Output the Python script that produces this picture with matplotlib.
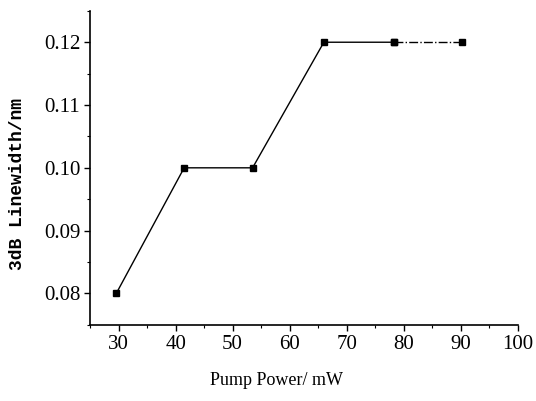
import numpy as np
import matplotlib.pyplot as plt
from matplotlib.ticker import MultipleLocator, FuncFormatter

pump_power = [29.6, 41.5, 53.5, 66.0, 78.3, 90.2]
linewidth = [0.080, 0.100, 0.100, 0.120, 0.120, 0.120]

fig = plt.figure(figsize=(5.36, 4.01), dpi=100)
ax = fig.add_axes([0.168, 0.19, 0.798, 0.783])

# solid up to 78 mW, dash-dot for the last segment
ax.plot(pump_power[:5], linewidth[:5], color='black', lw=1.0,
        marker='s', markersize=5)
ax.plot(pump_power[4:], linewidth[4:], color='black', lw=1.0, ls='-.',
        marker='s', markersize=5)

ax.set_xlim(25, 100)
ax.set_ylim(0.075, 0.125)
ax.xaxis.set_major_locator(MultipleLocator(10))
ax.xaxis.set_minor_locator(MultipleLocator(5))
ax.yaxis.set_major_locator(MultipleLocator(0.01))
ax.yaxis.set_minor_locator(MultipleLocator(0.005))
ax.yaxis.set_major_formatter(FuncFormatter(lambda v, p: '%.2f' % v))

for s in ['top', 'right']:
    ax.spines[s].set_visible(False)
for s in ['left', 'bottom']:
    ax.spines[s].set_linewidth(1.2)

ax.tick_params(which='major', direction='out', length=4, width=1.0,
               labelsize=15, pad=3)
ax.tick_params(which='minor', direction='out', length=2, width=0.8)
for lab in ax.get_xticklabels() + ax.get_yticklabels():
    lab.set_family('Liberation Serif')

fig.text(0.032, 0.54, '3dB Linewidth/nm', rotation=90, ha='center', va='center',
         family='Liberation Mono', fontsize=13, fontweight='bold')
fig.text(0.515, 0.052, 'Pump Power/ mW', ha='center', va='center',
         family='Liberation Serif', fontsize=13)

fig.savefig('out.png', dpi=100)
